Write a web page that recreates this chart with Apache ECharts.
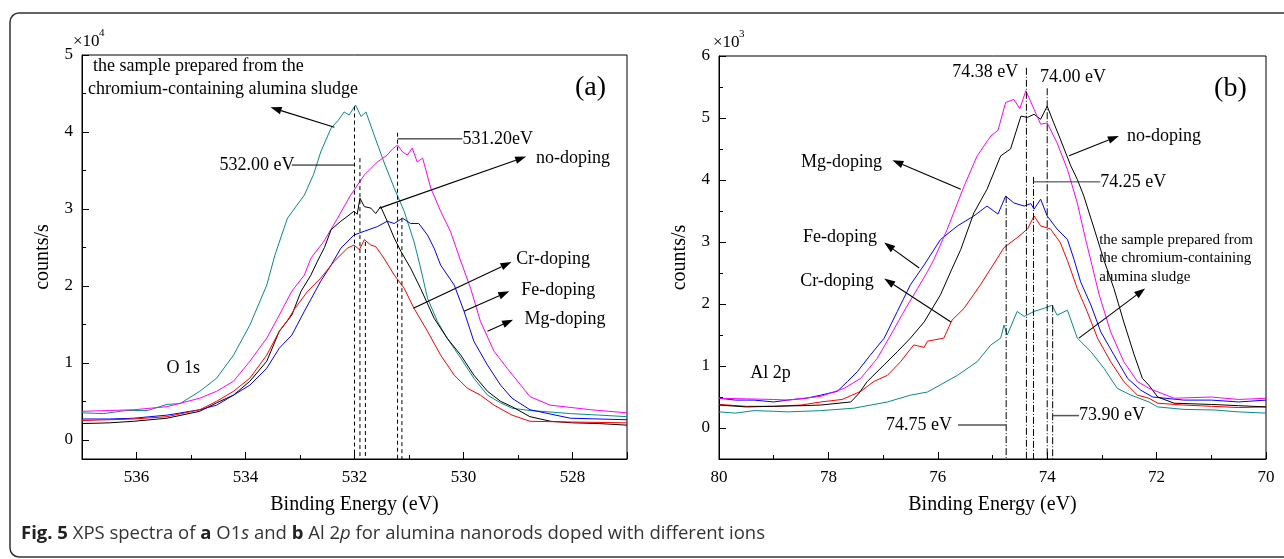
<!DOCTYPE html>
<html><head><meta charset="utf-8">
<script src="https://cdn.jsdelivr.net/npm/echarts@6/dist/echarts.min.js"></script>
<style>html,body{margin:0;padding:0;background:#fff}#c{width:1284px;height:559px}</style>
</head><body><div id="c"></div>
<script>
// ---------- DATA: panel (a) O 1s, [binding energy eV, counts/s x1e4] ----------
const aSludge = [[537.0,0.35],[536.6,0.34],[536.2,0.38],[535.8,0.38],[535.44,0.46],[535.2,0.47],[534.84,0.63],[534.53,0.80],[534.22,1.10],[533.92,1.49],[533.61,2.01],[533.46,2.40],[533.23,2.88],[532.92,3.18],[532.75,3.45],[532.62,3.74],[532.43,4.05],[532.30,4.15],[532.19,4.26],[532.10,4.22],[531.98,4.35],[531.88,4.20],[531.79,4.26],[531.64,3.96],[531.46,3.61],[531.27,3.27],[531.09,2.97],[530.91,2.58],[530.80,2.27],[530.66,1.84],[530.48,1.54],[530.30,1.32],[530.05,1.06],[529.81,0.80],[529.56,0.58],[529.32,0.48],[529.11,0.41],[528.78,0.38],[528.4,0.36],[528.04,0.34],[527.5,0.32],[527.0,0.30]];
const aMg = [[537.0,0.37],[536.5,0.38],[536.05,0.39],[535.44,0.43],[534.84,0.54],[534.53,0.63],[534.22,0.76],[533.92,1.02],[533.61,1.32],[533.38,1.62],[533.15,1.93],[532.92,2.14],[532.80,2.36],[532.56,2.58],[532.31,2.88],[532.07,3.18],[531.82,3.44],[531.58,3.61],[531.40,3.70],[531.30,3.78],[531.21,3.83],[531.12,3.74],[531.03,3.70],[530.94,3.79],[530.85,3.61],[530.75,3.66],[530.60,3.27],[530.42,2.97],[530.24,2.71],[530.05,2.32],[529.87,1.97],[529.69,1.54],[529.44,1.15],[529.20,0.93],[528.78,0.56],[528.41,0.45],[527.66,0.39],[527.0,0.35]];
const aNo = [[537.0,0.21],[536.5,0.22],[536.05,0.24],[535.44,0.28],[534.84,0.37],[534.53,0.48],[534.22,0.58],[533.92,0.76],[533.61,1.02],[533.38,1.41],[533.15,1.62],[532.98,1.93],[532.80,2.14],[532.68,2.32],[532.55,2.50],[532.43,2.73],[532.25,2.84],[532.10,2.92],[532.01,2.97],[531.95,2.93],[531.90,3.14],[531.82,3.03],[531.70,3.01],[531.61,2.94],[531.52,3.03],[531.40,2.84],[531.27,2.62],[531.15,2.45],[530.97,2.23],[530.79,1.97],[530.54,1.58],[530.30,1.32],[530.05,1.10],[529.81,0.84],[529.56,0.63],[529.32,0.50],[529.11,0.43],[528.78,0.30],[528.4,0.24],[528.0,0.22],[527.5,0.21],[527.0,0.19]];
const aFe = [[537.0,0.27],[536.5,0.27],[536.05,0.28],[535.44,0.32],[534.84,0.39],[534.53,0.45],[534.22,0.58],[533.92,0.71],[533.61,0.93],[533.38,1.19],[533.15,1.36],[532.92,1.67],[532.62,2.06],[532.43,2.27],[532.25,2.49],[532.01,2.66],[531.82,2.71],[531.58,2.77],[531.40,2.84],[531.27,2.81],[531.12,2.88],[530.97,2.81],[530.82,2.81],[530.66,2.66],[530.54,2.49],[530.42,2.27],[530.17,2.01],[529.99,1.67],[529.81,1.28],[529.56,0.97],[529.32,0.71],[529.11,0.54],[528.78,0.39],[528.04,0.28],[527.0,0.26]];
const aCr = [[537.0,0.25],[536.5,0.26],[536.05,0.27],[535.44,0.30],[534.84,0.39],[534.53,0.50],[534.22,0.63],[533.92,0.80],[533.61,1.10],[533.38,1.41],[533.23,1.55],[533.10,1.70],[532.86,1.93],[532.62,2.10],[532.37,2.32],[532.13,2.49],[532.01,2.53],[531.91,2.47],[531.82,2.60],[531.70,2.53],[531.61,2.51],[531.46,2.36],[531.27,2.14],[531.09,1.97],[530.91,1.71],[530.66,1.41],[530.42,1.10],[530.17,0.84],[529.93,0.67],[529.69,0.58],[529.44,0.45],[529.11,0.32],[528.78,0.24],[528.0,0.23],[527.0,0.22]];

// ---------- DATA: panel (b) Al 2p, [binding energy eV, counts/s x1e3] ----------
const bFe = [[80.0,0.48],[79.7,0.45],[79.36,0.45],[79.0,0.42],[78.75,0.45],[78.4,0.48],[78.14,0.53],[77.84,0.59],[77.65,0.75],[77.47,0.91],[77.23,1.18],[76.98,1.45],[76.74,1.88],[76.50,2.31],[76.25,2.63],[75.95,3.04],[75.64,3.26],[75.34,3.42],[75.10,3.58],[74.90,3.45],[74.76,3.74],[74.61,3.63],[74.42,3.58],[74.30,3.62],[74.24,3.53],[74.12,3.69],[74.00,3.42],[73.82,3.21],[73.63,3.04],[73.51,2.72],[73.39,2.36],[73.20,1.98],[73.02,1.55],[72.78,1.18],[72.53,0.80],[72.29,0.61],[72.07,0.50],[71.5,0.45],[71.0,0.45],[70.5,0.42],[70.0,0.45]];
const bMg = [[80.0,0.48],[79.5,0.47],[79.0,0.46],[78.75,0.45],[78.14,0.51],[77.71,0.64],[77.41,0.80],[77.11,1.12],[76.86,1.50],[76.62,1.88],[76.37,2.25],[76.19,2.52],[76.07,2.72],[75.83,3.20],[75.52,3.90],[75.28,4.39],[75.03,4.71],[74.90,4.80],[74.76,5.25],[74.61,5.30],[74.50,5.15],[74.39,5.44],[74.24,5.14],[74.12,4.90],[74.00,4.92],[73.82,4.60],[73.63,4.17],[73.45,3.63],[73.30,3.05],[73.18,2.62],[73.05,2.15],[72.84,1.55],[72.60,1.07],[72.35,0.75],[72.14,0.64],[71.68,0.48],[71.0,0.50],[70.5,0.46],[70.0,0.48]];
const bNo = [[80.0,0.37],[79.5,0.34],[79.0,0.35],[78.5,0.36],[78.14,0.37],[77.59,0.42],[77.45,0.55],[77.29,0.75],[76.98,1.02],[76.74,1.23],[76.50,1.45],[76.25,1.71],[75.95,2.15],[75.75,2.55],[75.58,2.88],[75.34,3.47],[75.10,3.85],[74.85,4.39],[74.67,4.50],[74.48,5.03],[74.36,5.01],[74.24,5.06],[74.12,4.98],[74.00,5.19],[73.88,4.92],[73.76,4.66],[73.57,4.23],[73.45,4.01],[73.33,3.74],[73.14,3.21],[72.96,2.70],[72.78,2.25],[72.60,1.71],[72.41,1.18],[72.26,0.80],[72.14,0.69],[71.98,0.50],[71.68,0.40],[71.0,0.38],[70.5,0.36],[70.0,0.34]];
const bCr = [[80.0,0.38],[79.5,0.35],[79.0,0.35],[78.5,0.37],[78.14,0.42],[77.75,0.46],[77.41,0.59],[77.17,0.75],[76.92,0.85],[76.68,1.07],[76.44,1.34],[76.25,1.30],[76.19,1.40],[75.89,1.45],[75.74,1.74],[75.52,1.93],[75.22,2.31],[74.91,2.74],[74.79,2.91],[74.55,3.07],[74.36,3.21],[74.24,3.42],[74.12,3.26],[73.94,3.21],[73.76,2.99],[73.63,2.70],[73.45,2.25],[73.27,1.88],[73.08,1.45],[72.84,1.07],[72.60,0.75],[72.35,0.53],[72.14,0.48],[71.98,0.40],[71.5,0.37],[71.0,0.35],[70.5,0.33],[70.0,0.34]];
const bSludge = [[80.0,0.26],[79.7,0.24],[79.36,0.28],[79.0,0.27],[78.75,0.26],[78.14,0.28],[77.53,0.32],[76.92,0.42],[76.50,0.53],[76.19,0.58],[75.64,0.85],[75.28,1.07],[75.03,1.34],[74.85,1.45],[74.79,1.66],[74.73,1.50],[74.55,1.88],[74.42,1.80],[74.24,1.88],[74.06,1.93],[73.91,1.98],[73.82,1.82],[73.63,1.90],[73.45,1.45],[73.20,1.23],[72.96,0.96],[72.72,0.64],[72.47,0.53],[72.14,0.42],[71.98,0.34],[71.5,0.30],[70.93,0.29],[70.5,0.26],[70.0,0.24]];

// ---------- annotation anchors (data coordinates) ----------
const aPeakLines = [[532.00,4.33],[531.90,3.66],[531.80,2.57],[531.21,3.99],[531.13,2.88]];
const bPeakLines = [[74.75,3.74],[74.38,5.81],[74.25,4.05],[74.00,5.48],[73.90,1.98]];
const aArrows = [[[532.37,4.06],[533.54,4.32]],[[531.54,3.01],[528.85,3.68]],[[530.92,1.71],[529.12,2.31]],[[529.99,1.67],[529.16,1.93]],[[529.56,1.41],[529.09,1.56]]];
const bArrows = [[[75.58,3.85],[76.83,4.32]],[[73.60,4.39],[72.69,4.71]],[[76.34,2.58],[76.98,2.99]],[[75.76,1.71],[76.98,2.41]],[[73.42,1.45],[72.21,2.25]]];

const SERIF = 'Liberation Serif';
const COL = {sludge:'#0b8a8a', mg:'#ff00ff', no:'#000000', fe:'#0000ff', cr:'#ff0000'};

function xAxis(gi, min, max, hideEnds){
  return {type:'value', gridIndex:gi, min:min, max:max, inverse:true, splitNumber:5,
    name:'Binding Energy (eV)', nameLocation:'middle', nameGap:36,
    nameTextStyle:{fontFamily:SERIF,fontSize:20,color:'#000'},
    axisLine:{onZero:false,lineStyle:{color:'#000',width:1}},
    axisTick:{inside:true,length:7,lineStyle:{color:'#000',width:1}},
    minorTick:{show:true,splitNumber:2,length:4,lineStyle:{color:'#000',width:1}},
    axisLabel:{fontFamily:SERIF,fontSize:17,color:'#000',margin:10,showMinLabel:!hideEnds,showMaxLabel:!hideEnds},
    splitLine:{show:false}, minorSplitLine:{show:false}};
}
function yAxis(gi, min, max){
  return {type:'value', gridIndex:gi, min:min, max:max, splitNumber:5,
    name:'counts/s', nameLocation:'middle', nameGap:29,
    nameTextStyle:{fontFamily:SERIF,fontSize:20,color:'#000'},
    axisLine:{onZero:false,lineStyle:{color:'#000',width:1}},
    axisTick:{inside:true,length:7,lineStyle:{color:'#000',width:1}},
    minorTick:{show:true,splitNumber:2,length:4,lineStyle:{color:'#000',width:1}},
    axisLabel:{fontFamily:SERIF,fontSize:17,color:'#000',margin:9,showMinLabel:false,
      formatter:function(v){return Math.abs(v-Math.round(v))<1e-6 ? String(Math.round(v)) : '';}},
    splitLine:{show:false}, minorSplitLine:{show:false}};
}
function line(gi, data, color){
  return {type:'line', xAxisIndex:gi, yAxisIndex:gi, data:data, showSymbol:false, symbol:'none',
    lineStyle:{color:color,width:1}, itemStyle:{color:color}, animation:false, silent:true};
}

const option = {
  animation:false, backgroundColor:'#fff',
  textStyle:{fontFamily:SERIF},
  grid:[
    {left:82, top:55, width:545, height:404, show:true, borderColor:'#000', borderWidth:1, containLabel:false, outerBoundsMode:'none'},
    {left:719, top:56, width:547, height:403, show:true, borderColor:'#000', borderWidth:1, containLabel:false, outerBoundsMode:'none'}
  ],
  xAxis:[xAxis(0,527,537,true), xAxis(1,70,80,false)],
  yAxis:[yAxis(0,-0.25,5), yAxis(1,-0.5,6)],
  series:[
    line(0,aSludge,COL.sludge), line(0,aMg,COL.mg), line(0,aNo,COL.no), line(0,aFe,COL.fe), line(0,aCr,COL.cr),
    line(1,bSludge,COL.sludge), line(1,bCr,COL.cr), line(1,bFe,COL.fe), line(1,bNo,COL.no), line(1,bMg,COL.mg)
  ]
};

const chart = echarts.init(document.getElementById('c'), null, {renderer:'canvas'});
chart.setOption(option);

const px = (g,p) => chart.convertToPixel({gridIndex:g}, p);
const els = [];
function txt(g, p, s, size, align, opts){
  const q = px(g,p);
  els.push({type:'text', x:q[0], y:q[1], z:100, style:Object.assign({text:s, fill:'#000',
    font: size+'px "'+SERIF+'"', align:align||'left', verticalAlign:'middle'}, opts||{})});
}
function seg(g, p1, p2, style){
  const a = px(g,p1), b = px(g,p2);
  els.push({type:'line', z:90, shape:{x1:a[0],y1:a[1],x2:b[0],y2:b[1]}, style:Object.assign({stroke:'#000',lineWidth:1},style||{})});
}
function arrow(g, from, to){
  const a = px(g,from), b = px(g,to);
  const dx=b[0]-a[0], dy=b[1]-a[1], L=Math.hypot(dx,dy), ux=dx/L, uy=dy/L;
  const hl=11, hw=3.8, bx=b[0]-ux*hl, by=b[1]-uy*hl;
  els.push({type:'line', z:90, shape:{x1:a[0],y1:a[1],x2:bx,y2:by}, style:{stroke:'#000',lineWidth:1.1}});
  els.push({type:'polygon', z:90, shape:{points:[[b[0],b[1]],[bx-uy*hw,by+ux*hw],[bx+uy*hw,by-ux*hw]]}, style:{fill:'#000'}});
}

// panel (a) annotations
aPeakLines.forEach(l => seg(0,[l[0],l[1]],[l[0],-0.25],{lineDash:[4,3]}));
seg(0,[533.15,3.57],[532.00,3.57]);
txt(0,[533.10,3.57],'532.00 eV',18,'right');
seg(0,[531.21,3.91],[530.02,3.91]);
txt(0,[530.02,3.91],'531.20eV',18,'left');
aArrows.forEach(a => arrow(0,a[0],a[1]));
txt(0,[536.8,4.86],'the sample prepared from the',18,'left');
txt(0,[536.89,4.56],'chromium-containing alumina sludge',18,'left');
txt(0,[528.67,3.66],'no-doping',18,'left');
txt(0,[529.03,2.34],'Cr-doping',18,'left');
txt(0,[528.94,1.94],'Fe-doping',18,'left');
txt(0,[528.88,1.56],'Mg-doping',18,'left');
txt(0,[535.45,0.93],'O 1s',18,'left');
txt(0,[527.67,4.58],'(a)',28,'center');

// panel (b) annotations
bPeakLines.forEach(l => seg(1,[l[0],l[1]],[l[0],-0.5],{lineDash:[7,2,1,2]}));
txt(1,[74.53,5.73],'74.38 eV',18,'right');
txt(1,[74.13,5.66],'74.00 eV',18,'left');
seg(1,[74.25,3.97],[73.03,3.97],{stroke:'#333'});
txt(1,[73.03,3.97],'74.25 eV',18,'left');
seg(1,[75.63,0.05],[74.75,0.05],{stroke:'#555',lineWidth:1.5});
txt(1,[75.74,0.05],'74.75 eV',18,'right');
seg(1,[73.90,0.2],[73.42,0.2],{stroke:'#555',lineWidth:1.5});
txt(1,[73.42,0.2],'73.90 eV',18,'left');
bArrows.forEach(a => arrow(1,a[0],a[1]));
txt(1,[77.02,4.28],'Mg-doping',18,'right');
txt(1,[72.54,4.71],'no-doping',18,'left');
txt(1,[77.11,3.07],'Fe-doping',18,'right');
txt(1,[77.17,2.36],'Cr-doping',18,'right');
txt(1,[73.05,3.03],'the sample prepared from',15,'left');
txt(1,[73.05,2.74],'the chromium-containing',15,'left');
txt(1,[73.05,2.44],'alumina sludge',15,'left');
txt(1,[79.43,0.89],'Al 2p',18,'left');
txt(1,[70.65,5.47],'(b)',28,'center');

// axis multipliers
const F = '"'+SERIF+'"';
els.push({type:'text', x:73, y:42, z:100, style:{text:'\u00d710', fill:'#000', font:'17px '+F, verticalAlign:'middle'}});
els.push({type:'text', x:99, y:33, z:100, style:{text:'4', fill:'#000', font:'11px '+F, verticalAlign:'middle'}});
els.push({type:'text', x:713, y:43, z:100, style:{text:'\u00d710', fill:'#000', font:'17px '+F, verticalAlign:'middle'}});
els.push({type:'text', x:739, y:34, z:100, style:{text:'3', fill:'#000', font:'11px '+F, verticalAlign:'middle'}});

// figure frame and caption
els.push({type:'rect', z:0, shape:{x:10,y:13,width:1290,height:544,r:9}, style:{fill:'none',stroke:'#333',lineWidth:1.5}});
const CAP = 'Open Sans';
const CS = 18.5;
els.push({type:'text', x:21, y:534, z:100, style:{
  text:'{b|Fig. 5} XPS spectra of {b|a} O1{i|s} and {b|b} Al 2{i|p} for alumina nanorods doped with different ions',
  fill:'#333', font:CS+'px "Open Sans"', verticalAlign:'middle',
  rich:{b:{fontFamily:CAP,fontSize:CS,fontWeight:'bold',fill:'#222'}, i:{fontFamily:CAP,fontSize:CS,fontStyle:'italic',fill:'#333'}}}});

chart.setOption({graphic:{elements:els}});
</script>
</body></html>
